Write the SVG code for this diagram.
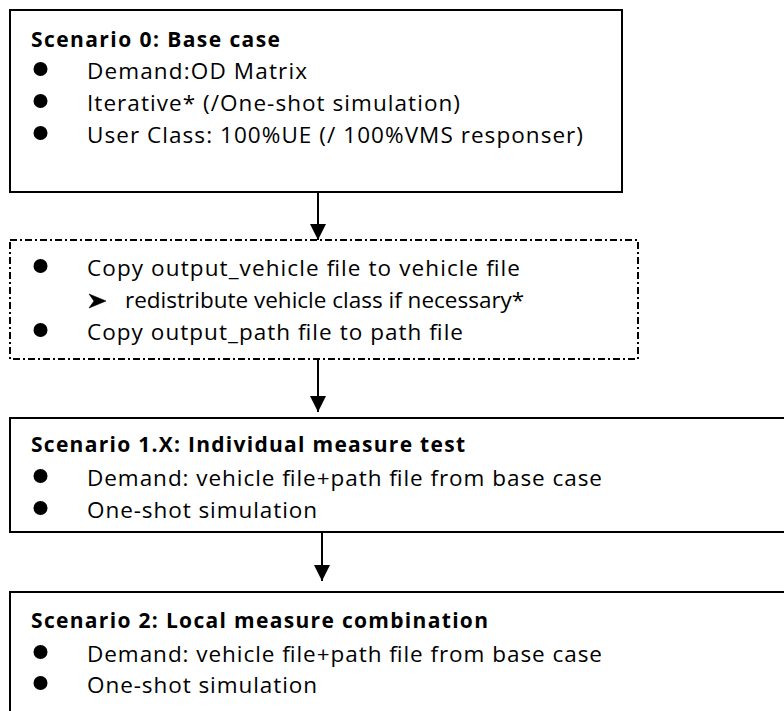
<svg xmlns="http://www.w3.org/2000/svg" width="784" height="711" viewBox="0 0 784 711">
<style>
.box{fill:#fff;stroke:#000;stroke-width:2}
.dash{fill:#fff;stroke:#000;stroke-width:2;stroke-dasharray:7 3 2 3}
.t{font-family:"Open Sans","Noto Sans","Liberation Sans",sans-serif;font-size:22.5px;fill:#000}
.h{font-family:"Open Sans","Noto Sans","Liberation Sans",sans-serif;font-size:21px;font-weight:bold;fill:#000}
.conn{stroke:#000;stroke-width:2;fill:none}
</style>
<defs>
<marker id="ah" markerUnits="userSpaceOnUse" markerWidth="16" markerHeight="16" viewBox="0 0 16 16" refX="16" refY="8" orient="auto">
<path d="M0,0 L16,8 L0,16 Z" fill="#000"/>
</marker>
<g id="bullet"><circle r="7" fill="#000"/></g>
</defs>
<rect width="784" height="711" fill="#fff"/>
<g id="connectors">
<line class="conn" x1="318" y1="192" x2="318" y2="240" marker-end="url(#ah)"/>
<line class="conn" x1="318" y1="359" x2="318" y2="412" marker-end="url(#ah)"/>
<line class="conn" x1="322" y1="532" x2="322" y2="581" marker-end="url(#ah)"/>
</g>
<g id="scenario0">
<rect class="box" x="10" y="10" width="612" height="182"/>
<text class="h" x="31" y="46.5" textLength="249">Scenario 0: Base case</text>
<use href="#bullet" x="40.5" y="69"/>
<text class="t" x="87" y="79" textLength="220">Demand:OD Matrix</text>
<use href="#bullet" x="40.5" y="101"/>
<text class="t" x="87" y="111" textLength="373">Iterative* (/One-shot simulation)</text>
<use href="#bullet" x="40.5" y="133"/>
<text class="t" x="87" y="143" textLength="496">User Class: 100%UE (/ 100%VMS responser)</text>
</g>
<g id="copy-step">
<rect class="dash" x="10" y="240" width="628" height="119"/>
<use href="#bullet" x="40.5" y="266"/>
<text class="t" x="87" y="275.5" textLength="433">Copy output_vehicle file to vehicle file</text>
<path d="M89,294 L106,301 L89,308 L94,301 Z" fill="#000" stroke="#000" stroke-width="0.6"/>
<text class="t" x="125" y="307.5">redistribute vehicle class if necessary*</text>
<use href="#bullet" x="40.5" y="330"/>
<text class="t" x="87" y="340" textLength="376">Copy output_path file to path file</text>
</g>
<g id="scenario1">
<rect class="box" x="10" y="418" width="790" height="114"/>
<text class="h" x="31" y="452" textLength="434">Scenario 1.X: Individual measure test</text>
<use href="#bullet" x="40.5" y="476"/>
<text class="t" x="87" y="486" textLength="515">Demand: vehicle file+path file from base case</text>
<use href="#bullet" x="40.5" y="508"/>
<text class="t" x="87" y="518" textLength="230">One-shot simulation</text>
</g>
<g id="scenario2">
<rect class="box" x="10" y="592" width="790" height="140"/>
<text class="h" x="31" y="628" textLength="457">Scenario 2: Local measure combination</text>
<use href="#bullet" x="40.5" y="652"/>
<text class="t" x="87" y="662" textLength="515">Demand: vehicle file+path file from base case</text>
<use href="#bullet" x="40.5" y="683"/>
<text class="t" x="87" y="693" textLength="230">One-shot simulation</text>
</g>
</svg>
